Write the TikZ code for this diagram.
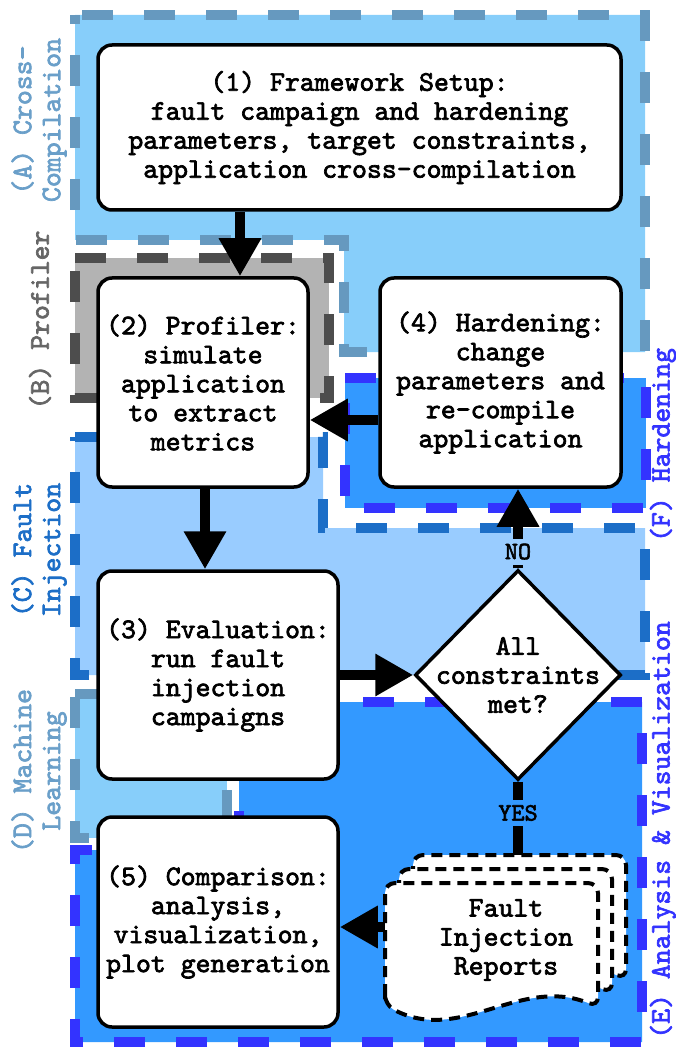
\documentclass[tikz,border=0pt]{standalone}
\usepackage{fontspec}
\usetikzlibrary{arrows.meta,shapes.geometric}

\newfontfamily\courfont{lmmono10-regular.otf}[FakeBold=2.4]

\definecolor{fillA}{HTML}{87CEFA}
\definecolor{lineA}{HTML}{6699BF}
\definecolor{textA}{HTML}{6A9FC9}
\definecolor{fillB}{HTML}{B3B3B3}
\definecolor{lineB}{HTML}{4D4D4D}
\definecolor{textB}{HTML}{666666}
\definecolor{fillC}{HTML}{99CCFF}
\definecolor{lineC}{HTML}{1C6EC7}
\definecolor{fillE}{HTML}{3399FF}
\definecolor{lineE}{HTML}{3333FF}

\newcommand\flowfont{\courfont\fontsize{28.4}{29}\selectfont}
\newcommand\tagfont{\courfont\fontsize{25}{26}\selectfont}

\begin{document}
\begin{tikzpicture}[x=1pt,y=-1pt,
  region/.style={line width=10pt, dash pattern=on 31pt off 31pt},
  stepbox/.style={draw, line width=3.5pt, rounded corners=14pt, fill=white,
    inner sep=0pt, align=center, font=\flowfont},
  regionlabel/.style={rotate=90, align=center, font=\flowfont, inner sep=0pt},
  arr/.style={line width=10pt, -{Triangle[length=38pt,width=40pt]}},
  tag/.style={font=\tagfont, inner sep=0pt, minimum height=26pt, minimum width=12pt},
  docline/.style={draw=black, fill=white, line width=4pt, dash pattern=on 11pt off 7pt, rounded corners=10pt}
]
\useasboundingbox (0,0) rectangle (675,1048);

% ---- regions ----
\filldraw[region, fill=fillA, draw=lineA, dash phase=55pt]
  (75,15) -- (645,15) -- (645,352) -- (344,352) -- (344,240) -- (75,240) -- cycle;
\filldraw[region, fill=fillB, draw=lineB]
  (75,258) -- (329,258) -- (329,398) -- (75,398) -- cycle;
\filldraw[region, fill=fillC, draw=lineC]
  (75,437) -- (323,437) -- (323,528) -- (645,528) -- (645,675) -- (75,675) -- cycle;
\filldraw[region, fill=fillE, draw=lineE]
  (345,378) -- (646,378) -- (646,508) -- (345,508) -- cycle;
\filldraw[region, fill=fillA, draw=lineA]
  (75,694) -- (227,694) -- (227,838) -- (75,838) -- cycle;
\filldraw[region, fill=fillE, draw=lineE]
  (239,702) -- (642,702) -- (642,1042) -- (75,1042) -- (75,850) -- (239,850) -- cycle;

% ---- region labels ----
\node[regionlabel, text=textA] (labA) at (39,120) {(A) Cross-\\Compilation};
\node[regionlabel, text=textB] (labB) at (40,320) {(B) Profiler};
\node[regionlabel, text=lineC] (labC) at (39,550) {(C) Fault\\Injection};
\node[regionlabel, text=textA] (labD) at (39,771) {(D) Machine\\Learning};
\node[regionlabel, text=lineE] (labE) at (663,830) {(E) Analysis \& Visualization};
\node[regionlabel, text=lineE] (labF) at (663,445) {(F) Hardening};

% ---- process steps ----
\node[stepbox, minimum width=523pt, minimum height=165pt] (b1) at (359.5,127.5)
  {(1) Framework Setup:\\fault campaign and hardening\\parameters, target constraints,\\application cross-compilation};
\node[stepbox, minimum width=210pt, minimum height=209pt] (b2) at (203,382.5)
  {(2) Profiler:\\simulate\\application\\to extract\\metrics};
\node[stepbox, minimum width=241pt, minimum height=209pt] (b4) at (500.5,382.5)
  {(4) Hardening:\\change\\parameters and\\re-compile\\application};
\node[stepbox, minimum width=240pt, minimum height=208pt] (b3) at (218,675)
  {(3) Evaluation:\\run fault\\injection\\campaigns};
\node[stepbox, minimum width=240pt, minimum height=210pt] (b5) at (218,922)
  {(5) Comparison:\\analysis,\\visualization,\\plot generation};

% ---- decision ----
\node[diamond, draw, line width=3.5pt, fill=white, minimum width=206pt,
  minimum height=210pt, inner sep=0pt] (dec) at (518,675) {};
\node[align=center, font=\flowfont, inner sep=0pt] (dectext) at (dec.center)
  {All\\constraints\\met?};

% ---- reports (stacked documents) ----
\coordinate (docTop) at (518,856);
\coordinate (docLeft) at (385,927);
\draw[line width=10pt] (dec.south) -- node[tag, fill=fillE, pos=0.42] (yes) {YES} (docTop);
\foreach \d in {28,14,0}{
  \filldraw[docline, shift={(\d,-\d)}]
    (385,1005) -- (385,883) -- (598,883) -- (598,1007)
    .. controls (520,975) and (460,1045) .. (385,1005) -- cycle;
}
\node[align=center, font=\flowfont, inner sep=0pt] (docs) at (506,940)
  {Fault\\Injection\\Reports};

% ---- connectors ----
\draw[arr] (240,0 |- b1.south) -- (240,0 |- b2.north);
\draw[arr] (205,0 |- b2.south) -- (205,0 |- b3.north);
\draw[arr] (b4.west |- 0,420) -- (b2.east |- 0,420);
\draw[arr] (b3.east) -- (dec.west);
\draw[arr] (dec.north) -- node[tag, fill=fillC, pos=0.21] (no) {NO} (dec.north |- b4.south);
\draw[arr] (docLeft) -- (b5.east |- docLeft);
\end{tikzpicture}
\end{document}
